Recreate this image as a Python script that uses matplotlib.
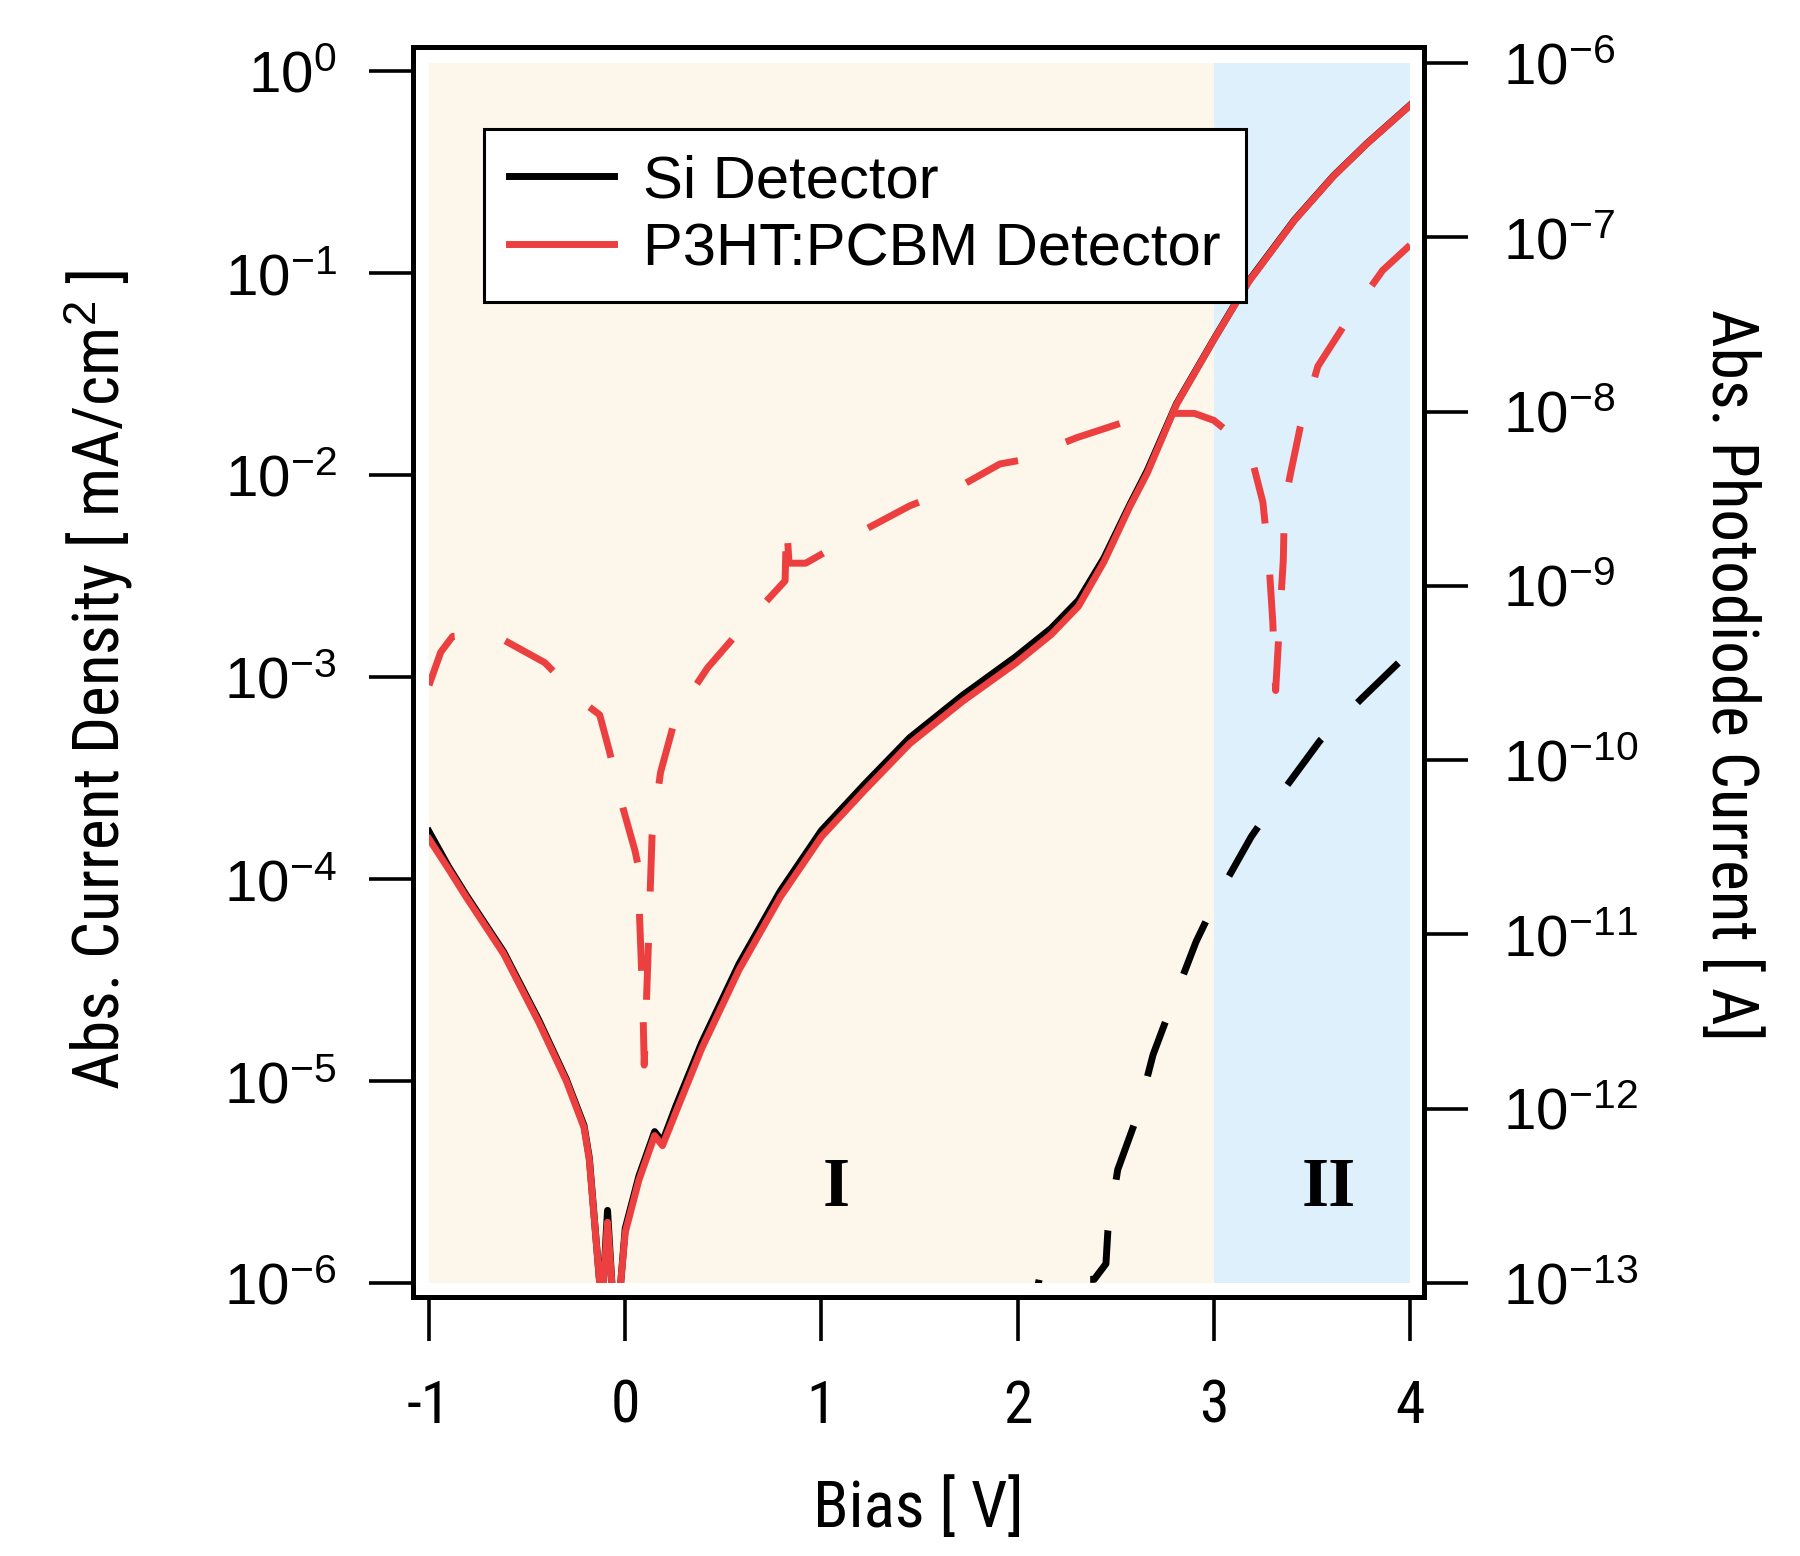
import matplotlib
matplotlib.use('Agg')
import matplotlib.pyplot as plt
from matplotlib.patches import Rectangle
from matplotlib.ticker import LogFormatterMathtext, NullLocator, FixedLocator

plt.rcParams['font.family'] = ['Liberation Sans', 'DejaVu Sans']
plt.rcParams['mathtext.fontset'] = 'custom'
plt.rcParams['mathtext.rm'] = 'Liberation Sans'
plt.rcParams['mathtext.it'] = 'Liberation Sans:italic'
plt.rcParams['mathtext.bf'] = 'Liberation Sans:bold'
plt.rcParams['axes.unicode_minus'] = False

COND = ['Roboto Condensed', 'Liberation Sans', 'DejaVu Sans']

# ---------------- data ----------------
# J-V curves (Abs. current density, mA/cm^2)
bias_si = [-1.00, -0.90, -0.81, -0.62, -0.44, -0.30, -0.21, -0.183, -0.130, -0.121, -0.111,
           -0.090, -0.068, -0.046, -0.023, 0.00, 0.07, 0.15, 0.19, 0.26, 0.39, 0.58, 0.79,
           1.00, 1.22, 1.45, 1.72, 1.99, 2.17, 2.31, 2.44, 2.57, 2.66, 2.81, 3.00, 3.18,
           3.41, 3.61, 3.78, 4.00]
j_si = [1.72e-4, 1.15e-4, 8.32e-5, 4.37e-5, 2.00e-5, 1.02e-5, 6.03e-6, 4.17e-6, 1.0e-6, 3.2e-7,
        1.0e-6, 2.29e-6, 1.0e-6, 3.2e-7, 1.0e-6, 1.86e-6, 3.39e-6, 5.62e-6, 5.01e-6, 7.59e-6,
        1.55e-5, 3.80e-5, 8.71e-5, 1.74e-4, 2.95e-4, 5.01e-4, 8.13e-4, 1.26e-3, 1.74e-3,
        2.40e-3, 3.89e-3, 7.08e-3, 1.05e-2, 2.26e-2, 4.70e-2, 9.20e-2, 0.183, 0.303, 0.438,
        0.678]

bias_p3 = [-1.00, -0.90, -0.81, -0.62, -0.44, -0.30, -0.21, -0.183, -0.130, -0.121, -0.111,
           -0.090, -0.068, -0.046, -0.023, 0.00, 0.07, 0.15, 0.19, 0.26, 0.39, 0.58, 0.79,
           1.00, 1.22, 1.45, 1.72, 1.99, 2.17, 2.31, 2.44, 2.57, 2.66, 2.81, 3.00, 3.18,
           3.41, 3.61, 3.78, 4.00]
j_p3 = [1.58e-4, 1.12e-4, 8.13e-5, 4.27e-5, 1.95e-5, 1.00e-5, 5.89e-6, 4.07e-6, 1.0e-6, 3.2e-7,
        1.0e-6, 2.00e-6, 1.0e-6, 3.2e-7, 1.0e-6, 1.78e-6, 3.24e-6, 5.37e-6, 4.79e-6, 7.08e-6,
        1.45e-5, 3.55e-5, 8.13e-5, 1.62e-4, 2.75e-4, 4.68e-4, 7.59e-4, 1.17e-3, 1.62e-3,
        2.24e-3, 3.72e-3, 6.92e-3, 1.02e-2, 2.24e-2, 4.68e-2, 9.12e-2, 0.182, 0.302, 0.437,
        0.676]

# Photodiode currents (A)
bias_pd_si = [2.05, 2.11, 2.39, 2.45, 2.46, 2.51, 2.61, 2.69, 2.79, 2.91, 3.03, 3.19, 3.35,
              3.54, 3.75, 3.97, 4.00]
i_pd_si = [5.0e-14, 1.05e-13, 1.05e-13, 1.29e-13, 2.0e-13, 4.47e-13, 9.12e-13, 2.04e-12,
           4.07e-12, 9.12e-12, 1.74e-11, 3.63e-11, 6.61e-11, 1.29e-10, 2.24e-10, 3.89e-10,
           3.63e-10]

bias_pd_p3 = [-1.00, -0.94, -0.88, -0.75, -0.62, -0.41, -0.20, -0.13, -0.08, -0.01, 0.05,
              0.065, 0.07, 0.08, 0.09, 0.097, 0.12, 0.137, 0.18, 0.26, 0.42, 0.62, 0.815,
              0.822, 0.835, 0.92, 1.20, 1.45, 1.72, 1.91, 2.01, 2.30, 2.57, 2.80, 2.90, 3.00,
              3.12, 3.20, 3.25, 3.28, 3.30, 3.315, 3.335, 3.354, 3.36, 3.39, 3.44, 3.53,
              3.69, 3.86, 4.00]
i_pd_p3 = [2.69e-10, 4.17e-10, 5.13e-10, 5.25e-10, 4.90e-10, 3.63e-10, 2.09e-10, 1.82e-10,
           1.12e-10, 5.25e-11, 3.02e-11, 2.51e-11, 1.58e-11, 7.94e-12, 3.98e-12, 1.78e-12,
           1.0e-11, 3.72e-11, 8.51e-11, 1.82e-10, 3.39e-10, 6.17e-10, 1.07e-9, 2.34e-9,
           1.35e-9, 1.35e-9, 2.04e-9, 2.88e-9, 3.80e-9, 5.01e-9, 5.25e-9, 7.08e-9, 8.91e-9,
           9.77e-9, 9.77e-9, 8.91e-9, 6.92e-9, 5.01e-9, 3.02e-9, 1.41e-9, 6.31e-10, 2.51e-10,
           6.31e-10, 1.41e-9, 2.95e-9, 4.37e-9, 8.13e-9, 1.82e-8, 3.47e-8, 6.46e-8, 9.02e-8]

x_ticks = [-1, 0, 1, 2, 3, 4]
left_ticks = [1e-6, 1e-5, 1e-4, 1e-3, 1e-2, 1e-1, 1e0]
right_ticks = [1e-13, 1e-12, 1e-11, 1e-10, 1e-9, 1e-8, 1e-7, 1e-6]
region_edges = [-1, 3, 4]
region_names = ['I', 'II']
region_label_x = [1.074, 3.584]
legend_labels = ['Si Detector', 'P3HT:PCBM Detector']

# ---------------- style ----------------
RED = '#EC4040'
CREAM = '#FDF6EA'
BLUE = '#DDF0FC'
LW = 5.0
DASH = (8.2, 7.4)

fig = plt.figure(figsize=(18, 15.56), dpi=100)
ax = fig.add_axes([0.22944, 0.16645, 0.56167, 0.80334])
ax.set_yscale('log')
ax.set_xlim(-1.0815, 4.071)
ax.set_ylim(10 ** -6.069, 10 ** 0.119)
ax2 = ax.twinx()
ax2.set_yscale('log')
ax2.set_ylim(10 ** -13.08, 10 ** -5.908)

plot_top_left = 1.096   # top of the plotting region in left-axis units
left_bottom = 1e-6
right_bottom, right_top = 1e-13, 1e-6

for i, c in enumerate([CREAM, BLUE]):
    ax.add_patch(Rectangle((region_edges[i], left_bottom), region_edges[i + 1] - region_edges[i],
                           plot_top_left - left_bottom, facecolor=c, edgecolor='none', zorder=0))

clip1 = Rectangle((region_edges[0], left_bottom), region_edges[-1] - region_edges[0],
                  plot_top_left - left_bottom, transform=ax.transData)
clip2 = Rectangle((region_edges[0], right_bottom), region_edges[-1] - region_edges[0],
                  right_top - right_bottom, transform=ax2.transData)

l_si, = ax.plot(bias_si, j_si, color='black', lw=LW, zorder=3, solid_joinstyle='round')
l_p3, = ax.plot(bias_p3, j_p3, color=RED, lw=LW, zorder=4, solid_joinstyle='round')
l_si.set_clip_path(clip1)
l_p3.set_clip_path(clip1)

d_si, = ax2.plot(bias_pd_si, i_pd_si, color='black', lw=LW, dashes=DASH, zorder=3)
d_p3, = ax2.plot(bias_pd_p3, i_pd_p3, color=RED, lw=LW, dashes=DASH, zorder=4)
d_si.set_clip_path(clip2)
d_p3.set_clip_path(clip2)

for name, xx in zip(region_names, region_label_x):
    ax.text(xx, 10 ** -5.62, name, fontfamily='Liberation Serif', fontweight='bold',
            fontsize=50, ha='center', va='baseline', zorder=5)

# ticks
ax.xaxis.set_major_locator(FixedLocator(x_ticks))
ax.set_xticklabels([str(t) for t in x_ticks], fontfamily=COND)
for a, tk in ((ax, left_ticks), (ax2, right_ticks)):
    a.yaxis.set_major_locator(FixedLocator(tk))
    a.yaxis.set_major_formatter(LogFormatterMathtext())
    a.yaxis.set_minor_locator(NullLocator())
    for s in a.spines.values():
        s.set_linewidth(3.6)
ax.xaxis.set_minor_locator(NullLocator())
ax.tick_params(axis='x', direction='out', length=32, width=2.6, labelsize=43, pad=26)
ax.tick_params(axis='y', direction='out', length=32, width=2.6, labelsize=42, pad=23)
ax2.tick_params(axis='y', direction='out', length=32, width=2.6, labelsize=42, pad=25)

leg = ax2.legend([l_si, l_p3], legend_labels, loc='upper left',
                 bbox_to_anchor=(0.0702, 0.9344), bbox_transform=ax2.transAxes,
                 borderaxespad=0, fontsize=43, frameon=True, fancybox=False,
                 edgecolor='black', framealpha=1, borderpad=0.42, labelspacing=0.22,
                 handlelength=1.75, handletextpad=0.5)
leg.get_frame().set_linewidth(2.2)
leg.set_zorder(10)

fig.text(120 / 1800, 1 - 680 / 1556, 'Abs. Current Density [ mA/cm$^{2}$ ]', rotation=90,
         rotation_mode='anchor', ha='center', va='baseline', fontsize=47, fontfamily=COND)
fig.text(1712 / 1800, 1 - 675 / 1556, 'Abs. Photodiode Current [ A]', rotation=270,
         rotation_mode='anchor', ha='center', va='baseline', fontsize=47, fontfamily=COND)
fig.text(918 / 1800, 1 - 1527 / 1556, 'Bias [ V]', ha='center', va='baseline', fontsize=47,
         fontfamily=COND)

fig.savefig('out.png', dpi=100)
